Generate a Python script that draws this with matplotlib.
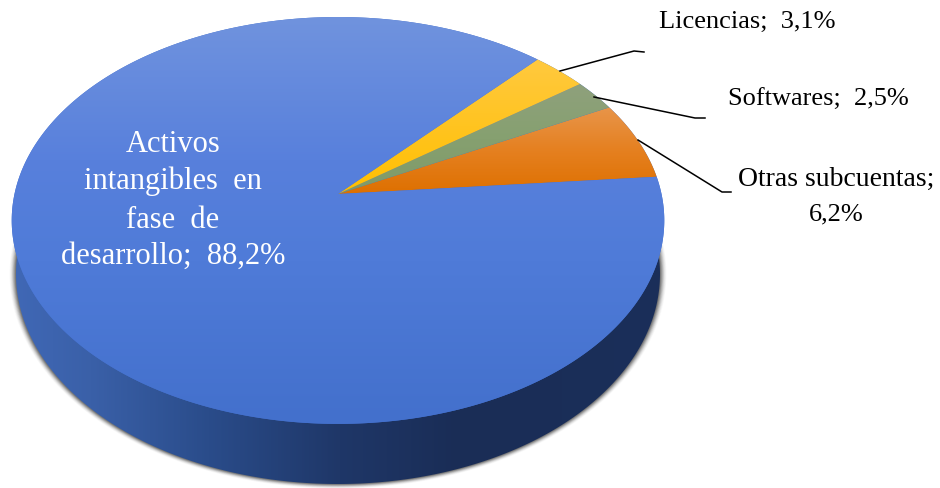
import numpy as np
import matplotlib
matplotlib.use("Agg")
import matplotlib.pyplot as plt
from matplotlib.colors import LinearSegmentedColormap
from matplotlib.patches import Polygon

# --- data ---
categories = ["Otras subcuentas", "Softwares", "Licencias", "Activos intangibles en fase de desarrollo"]
values = [6.2, 2.5, 3.1, 88.2]
slice_colors = [
    ["#E8954A", "#E58020", "#DE7000"],
    ["#8FA17C", "#86A070", "#7F9A68"],
    ["#FFC93F", "#FFC420", "#FFBF00"],
    [(0.0, "#7093DE"), (0.35, "#5880DC"), (0.6, "#4F7BD8"), (1.0, "#4370CC")],
]

plt.rcParams["font.family"] = ["Liberation Serif", "DejaVu Serif"]
W, H = 940, 489
fig = plt.figure(figsize=(W / 100, H / 100), dpi=100)
ax = fig.add_axes([0, 0, 1, 1])
ax.set_xlim(0, W)
ax.set_ylim(H, 0)
ax.axis("off")

# perspective disc → screen
CX, CY, AX, AY, B = 338, 195, 323.5, 200.0, 0.13
START = 5.0


def disc(theta_deg, r=1.0):
    t = np.radians(theta_deg)
    u, v = r * np.cos(t), r * np.sin(t)
    d = 1 + B * v
    return CX + AX * u / d, CY - AY * v / d


def gradient(patch, stops, extent, horizontal=False, zorder=2):
    cmap = LinearSegmentedColormap.from_list("g", stops)
    g = np.linspace(0, 1, 256)
    g = g.reshape(1, -1) if horizontal else g.reshape(-1, 1)
    im = ax.imshow(g, cmap=cmap, extent=extent, aspect="auto", zorder=zorder, origin="upper")
    ax.add_patch(patch)
    patch.set_facecolor("none")
    patch.set_edgecolor("none")
    im.set_clip_path(patch)
    ax.set_xlim(0, W)
    ax.set_ylim(H, 0)


# bottom ellipse
BX, BY, BRX, BRY = 338, 275, 322, 210
tt = np.linspace(0, 360, 721)
ex = BX + BRX * np.cos(np.radians(tt))
ey = BY + BRY * np.sin(np.radians(tt))

# soft shadow
for grow, a in zip([8, 7, 6, 5, 4, 3, 2, 1], [0.03, 0.05, 0.07, 0.10, 0.13, 0.17, 0.22, 0.28]):
    sx = BX + (BRX + grow * 0.8) * np.cos(np.radians(tt))
    sy = BY + (BRY + grow * 0.55) * np.sin(np.radians(tt))
    ax.fill(sx, sy, color="#3a3a3a", alpha=a, lw=0, zorder=1)

# side wall
top_x, top_y = disc(np.linspace(0, 360, 721))
side = Polygon(np.column_stack([ex, ey]), closed=True)
gradient(side,
         [(0.0, "#4068B6"), (0.12, "#3A60A8"), (0.30, "#2A4C8A"), (0.50, "#1F3768"), (0.68, "#1A2D56"), (1.0, "#1B2F5A")],
         (12, 668, H, 0), horizontal=True, zorder=1.5)
ax.fill(top_x, top_y, color="#4370CC", lw=0, zorder=1.6)

# top slices
angle = START
for val, stops in zip(values, slice_colors):
    span = val / sum(values) * 360
    th = np.linspace(angle, angle + span, max(3, int(span * 2)))
    x, y = disc(th)
    xs = np.r_[CX, x]
    ys = np.r_[CY, y]
    poly = Polygon(np.column_stack([xs, ys]), closed=True)
    gradient(poly, stops, (0, W, ys.max(), ys.min()), zorder=2)
    angle += span

# leader lines
leaders = [
    ([638, 722, 731], [141, 193, 193]),
    ([560, 634, 644], [72, 52, 53]),
    ([594, 695, 705], [98, 119, 119]),
]
for lx, ly in leaders:
    ax.plot(lx, ly, color="black", lw=1.1, zorder=3, solid_joinstyle="round")


def pct(v):
    return f"{v:.1f}%".replace(".", ",")


FS = 19
ax.text(747, 22, f"Licencias;  {pct(values[2])}", fontsize=FS, ha="center", va="center", color="black", zorder=4)
ax.text(818, 100, f"Softwares;  {pct(values[1])}", fontsize=FS, ha="center", va="center", color="black", zorder=4)
ax.text(836, 179, "Otras subcuentas;", fontsize=20, ha="center", va="center", color="black", zorder=4)
ax.text(836, 214, pct(values[0]), fontsize=FS, ha="center", va="center", color="black", zorder=4)
white_lines = ["Activos", "intangibles  en", "fase  de", f"desarrollo;  {pct(values[3])}"]
for yy, line in zip([145, 181, 220, 256], white_lines):
    ax.text(173, yy, line, fontsize=22, ha="center", va="center", color="white", zorder=4)

fig.savefig("out.png", dpi=100, facecolor="white")
